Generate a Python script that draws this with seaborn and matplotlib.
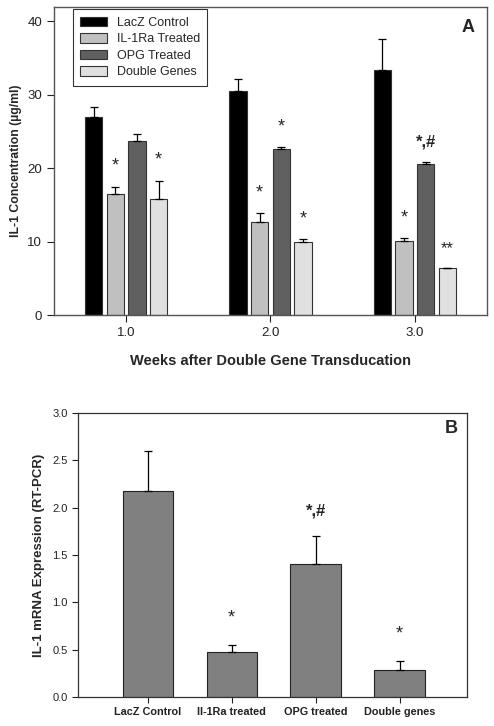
import numpy as np
import pandas as pd
import matplotlib
matplotlib.use("Agg")
import matplotlib.pyplot as plt
import seaborn as sns

# Panel A data: IL-1 concentration by week and treatment
weeks = ["1.0", "2.0", "3.0"]
groups_a = ["LacZ Control", "IL-1Ra Treated", "OPG Treated", "Double Genes"]
colors_a = ["#000000", "#c0c0c0", "#606060", "#e0e0e0"]
lacz = [27.0, 30.5, 33.3]
il1ra = [16.5, 12.7, 10.1]
opg = [23.7, 22.6, 20.5]
double = [15.8, 9.9, 6.35]
lacz_err = [1.35, 1.6, 4.3]
il1ra_err = [1.0, 1.2, 0.35]
opg_err = [0.9, 0.25, 0.4]
double_err = [2.5, 0.4, 0.1]
# significance marks (week, group, text)
marks_a = [("1.0", "IL-1Ra Treated", "*"), ("1.0", "Double Genes", "*"),
           ("2.0", "IL-1Ra Treated", "*"), ("2.0", "OPG Treated", "*"),
           ("2.0", "Double Genes", "*"),
           ("3.0", "IL-1Ra Treated", "*"), ("3.0", "OPG Treated", "*,#"),
           ("3.0", "Double Genes", "**")]

# Panel B data: IL-1 mRNA expression
groups_b = ["LacZ Control", "Il-1Ra treated", "OPG treated", "Double genes"]
mrna = [2.18, 0.475, 1.41, 0.28]
mrna_err = [0.42, 0.075, 0.29, 0.105]
marks_b = ["", "*", "*,#", "*"]

df_a = pd.DataFrame({
    "week": weeks * 4,
    "group": np.repeat(groups_a, 3),
    "value": lacz + il1ra + opg + double,
    "err": lacz_err + il1ra_err + opg_err + double_err,
})
df_b = pd.DataFrame({"group": groups_b, "value": mrna, "err": mrna_err})

sns.set_style("white")
plt.rcParams["font.family"] = ["Liberation Sans", "DejaVu Sans"]

fig = plt.figure(figsize=(4.94, 7.26), dpi=100)
ax1 = fig.add_axes([0.109, 0.566, 0.877, 0.424])
ax2 = fig.add_axes([0.158, 0.040, 0.787, 0.391])

# ---- Panel A ----
sns.barplot(data=df_a, x="week", y="value", hue="group", order=weeks,
            hue_order=groups_a, palette=colors_a, width=0.6, gap=0.2,
            errorbar=None, edgecolor="#333333", linewidth=0.8,
            saturation=1, ax=ax1)

bar_conts = list(ax1.containers)[:len(groups_a)]
for gi, cont in enumerate(bar_conts):
    sub = df_a[df_a["group"] == groups_a[gi]].set_index("week").loc[weeks]
    xs = [b.get_x() + b.get_width() / 2 for b in cont]
    ax1.errorbar(xs, sub["value"], yerr=[np.zeros(3), sub["err"]], fmt="none",
                 ecolor="black", elinewidth=0.9, capsize=3, capthick=0.9)
    for wk, grp, txt in marks_a:
        if grp != groups_a[gi]:
            continue
        k = weeks.index(wk)
        top = sub["value"].iloc[k] + sub["err"].iloc[k]
        ax1.text(xs[k], top + 1.6, txt, ha="center", va="bottom",
                 fontsize=13 if txt == "*" else 12,
                 fontweight="bold" if "#" in txt else "normal")

ax1.set_ylim(0, 41.9)
ax1.set_xlim(-0.5, 2.5)
ax1.set_yticks([0, 10, 20, 30, 40])
ax1.set_ylabel("IL-1 Concentration (µg/ml)", fontsize=8.8, fontweight="bold", labelpad=4)
ax1.set_xlabel("Weeks after Double Gene Transducation", fontsize=10.5,
               fontweight="bold", labelpad=11)
ax1.tick_params(axis="both", direction="out", length=5, width=0.8,
                labelsize=9.5, colors="#222222", left=True, bottom=True)
for s in ax1.spines.values():
    s.set_color("#555555")
    s.set_linewidth(1.0)
leg = ax1.legend(loc="upper left", bbox_to_anchor=(0.044, 0.994), fontsize=9,
                 frameon=True, fancybox=False, edgecolor="black",
                 borderaxespad=0, handlelength=2.1, handleheight=0.8,
                 borderpad=0.6, labelspacing=0.35, handletextpad=0.8)
leg.get_frame().set_linewidth(0.8)
ax1.text(0.955, 0.935, "A", transform=ax1.transAxes, ha="center", va="center",
         fontsize=13, fontweight="bold")

# ---- Panel B ----
sns.barplot(data=df_b, x="group", y="value", order=groups_b, color="#808080",
            width=0.6, errorbar=None, edgecolor="#222222", linewidth=0.8,
            saturation=1, ax=ax2)
xs_b = [b.get_x() + b.get_width() / 2 for b in ax2.patches]
ax2.errorbar(xs_b, df_b["value"], yerr=[np.zeros(4), df_b["err"]], fmt="none",
             ecolor="black", elinewidth=0.9, capsize=3, capthick=0.9)
for k, txt in enumerate(marks_b):
    if txt:
        ax2.text(xs_b[k], df_b["value"][k] + df_b["err"][k] + 0.19, txt,
                 ha="center", va="bottom", fontsize=13 if txt == "*" else 12,
                 fontweight="bold" if "#" in txt else "normal")

ax2.set_ylim(0, 3.0)
ax2.set_xlim(-0.83, 3.8)
ax2.set_yticks(np.arange(0, 3.01, 0.5))
ax2.yaxis.set_major_formatter(matplotlib.ticker.FormatStrFormatter("%.1f"))
ax2.set_ylabel("IL-1 mRNA Expression (RT-PCR)", fontsize=9.5, fontweight="bold", labelpad=5)
ax2.set_xlabel("")
ax2.tick_params(axis="both", direction="out", length=4, width=0.8,
                labelsize=8, colors="#222222", left=True, bottom=True)
for lbl in ax2.get_xticklabels():
    lbl.set_fontweight("bold")
    lbl.set_fontsize(7.8)
for s in ax2.spines.values():
    s.set_color("#333333")
    s.set_linewidth(0.9)
ax2.text(0.961, 0.944, "B", transform=ax2.transAxes, ha="center", va="center",
         fontsize=13, fontweight="bold")

fig.savefig("out.png", dpi=100)
